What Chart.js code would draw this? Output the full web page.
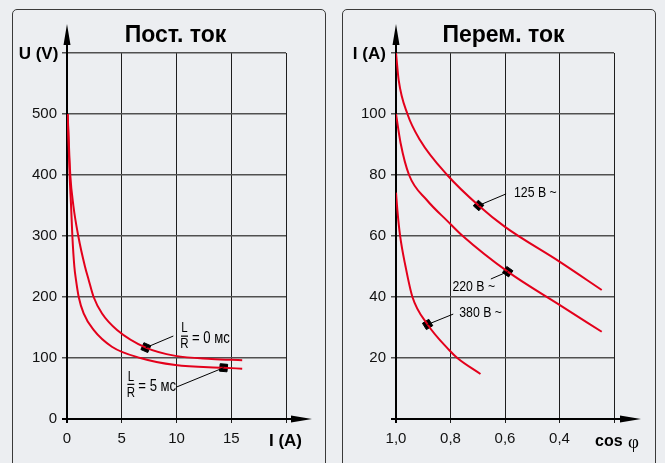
<!DOCTYPE html>
<html>
<head>
  <title>Пост. ток / Перем. ток</title>
  <script src="https://cdn.jsdelivr.net/npm/chart.js"></script>
  <style>
    body {
      margin: 0;
      width: 665px;
      height: 463px;
      overflow: hidden;
      position: relative;
      background: #eceef1;
    }
    .panel {
      position: absolute;
      top: 9px;
      height: 470px;
      border: 1px solid #3a3a3a;
      border-radius: 5px;
      box-sizing: border-box;
    }
    #p1 { left: 12px; width: 314px; }
    #p2 { left: 342px; width: 314px; }
    canvas { position: absolute; top: 0; }
    #dc { left: 0; }
    #ac { left: 333px; }
  </style>
</head>
<body>
  <div class="panel" id="p1"></div>
  <div class="panel" id="p2"></div>
  <canvas id="dc" width="333" height="463"></canvas>
  <canvas id="ac" width="332" height="463"></canvas>

  <script>
    // --- Пост. ток : U (V) over I (A)
    const dc0msI = [0.06, 0.3, 0.58, 1.03, 1.64, 1.98, 2.43, 3.2, 4.57, 7.2, 9.9, 13.2, 16];
    const dc0msU = [500, 400, 350, 300, 250, 228, 200, 173, 146, 117, 103.5, 98.5, 96.5];
    const dc5msI = [0.06, 0.24, 0.37, 0.49, 0.67, 0.82, 1.07, 1.52, 2.43, 4.1, 6.7, 9.9, 14.3, 16];
    const dc5msU = [500, 400, 350, 300, 250, 228, 200, 173, 146, 118.5, 100, 88.5, 84, 82.5];
    const dcMarkI = [7.2, 14.3];
    const dcMarkU = [117, 84];
    const dcLabelText = ['= 0 мс', '= 5 мс'];
    const dcLabelI = [10.73, 5.83];
    const dcLabelU = [136, 57];
    const dcLeaderI = [9.71, 9.95];
    const dcLeaderU = [136, 52];

    // --- Перем. ток : I (A) over cos φ
    const ac125Cos = [1.0, 0.99, 0.958, 0.912, 0.812, 0.697, 0.6, 0.4, 0.245];
    const ac125I = [120, 111, 100, 91.5, 80, 70, 63, 51.6, 42.3];
    const ac220Cos = [1.0, 0.983, 0.952, 0.887, 0.81, 0.755, 0.59, 0.4, 0.245];
    const ac220I = [100, 90.4, 80, 71.8, 64.8, 60, 48.3, 37.4, 28.6];
    const ac380Cos = [1.0, 0.995, 0.985, 0.965, 0.94, 0.884, 0.806, 0.775, 0.69];
    const ac380I = [74.2, 68.5, 60.1, 50, 40.1, 31, 22.7, 20, 14.75];
    const acMarkCos = [0.697, 0.59, 0.884];
    const acMarkI = [70, 48.3, 31];
    const acLabelText = ['125 В ~', '220 В ~', '380 В ~'];
    const acLabelCos = [0.567, 0.793, 0.768];
    const acLabelI = [74.1, 43.4, 34.9];
    const acLeaderCos = [0.596, 0.652, 0.79];
    const acLeaderI = [73.8, 45.9, 34.4];

    const RED = '#e3001b';
    const SANS = '"Liberation Sans", Arial, sans-serif';

    const pts = (xs, ys) => xs.map((x, i) => ({ x: x, y: ys[i] }));

    function curve(xs, ys) {
      return {
        data: pts(xs, ys),
        borderColor: RED,
        borderWidth: 2,
        pointRadius: 0,
        cubicInterpolationMode: 'monotone',
        fill: false
      };
    }

    function markers(xs, ys, rot) {
      return {
        data: pts(xs, ys),
        showLine: false,
        pointStyle: 'rect',
        pointRadius: 5.3,
        pointRotation: rot,
        pointBackgroundColor: '#000',
        pointBorderColor: '#000',
        pointBorderWidth: 1
      };
    }

    // condensed text (no narrow face installed, so squeeze Liberation Sans)
    function narrowText(ctx, text, x, y, size, align) {
      ctx.save();
      ctx.font = size + 'px ' + SANS;
      ctx.textAlign = align;
      ctx.textBaseline = 'middle';
      ctx.translate(x, y);
      ctx.scale(0.82, 1);
      ctx.fillText(text, 0, 0);
      ctx.restore();
    }

    function drawAxes(chart, tipX, tipY) {
      const { ctx, chartArea: a } = chart;
      ctx.save();
      ctx.strokeStyle = '#000';
      ctx.fillStyle = '#000';
      ctx.lineWidth = 2;
      ctx.beginPath();
      ctx.moveTo(a.left, a.bottom + 4);
      ctx.lineTo(a.left, tipY + 12);
      ctx.moveTo(a.left - 5, a.bottom);
      ctx.lineTo(tipX - 12, a.bottom);
      ctx.stroke();
      ctx.beginPath();
      ctx.moveTo(a.left, tipY);
      ctx.lineTo(a.left - 3.5, tipY + 21);
      ctx.lineTo(a.left + 3.5, tipY + 21);
      ctx.closePath();
      ctx.moveTo(tipX, a.bottom);
      ctx.lineTo(tipX - 21, a.bottom - 3.5);
      ctx.lineTo(tipX - 21, a.bottom + 3.5);
      ctx.closePath();
      ctx.fill();
      ctx.restore();
    }

    function leader(ctx, x1, y1, x2, y2) {
      ctx.beginPath();
      ctx.moveTo(x1, y1);
      ctx.lineTo(x2, y2);
      ctx.stroke();
    }

    function scaleOpts(min, max, step, hide, fmt, gridColor, gridWidth, tl, pad) {
      return {
        type: 'linear',
        min: min,
        max: max,
        border: { display: false },
        grid: { color: gridColor, lineWidth: gridWidth, tickLength: tl, drawTicks: true },
        ticks: {
          stepSize: step,
          padding: pad,
          color: '#111',
          font: { family: SANS, size: 15 },
          callback: v => hide(v) ? '' : fmt(v)
        }
      };
    }

    // left chart
    const dcX = scaleOpts(0, 20, 5, v => v > 17, v => String(v), '#1e1e1e', 1, 4, 7);
    dcX.afterFit = s => { s.height = 44; };
    const dcY = scaleOpts(0, 600, 100, v => v > 550, v => String(v), '#505050', 1.5, 5, 5);
    dcY.afterFit = s => { s.width = 67; };

    new Chart(document.getElementById('dc'), {
      type: 'line',
      data: {
        datasets: [
          curve(dc0msI, dc0msU),
          curve(dc5msI, dc5msU),
          markers(dcMarkI, dcMarkU, [24, 5])
        ]
      },
      options: {
        responsive: false,
        animation: false,
        events: [],
        devicePixelRatio: 1,
        layout: { padding: { top: 53, right: 47, left: 0, bottom: 0 } },
        scales: { x: dcX, y: dcY },
        plugins: { legend: { display: false }, tooltip: { enabled: false } }
      },
      plugins: [{
        id: 'dcDeco',
        beforeDatasetsDraw(chart) {
          drawAxes(chart, 312, 24);
        },
        afterDatasetsDraw(chart) {
          const { ctx, scales: { x, y } } = chart;
          ctx.save();
          ctx.fillStyle = '#000';
          ctx.strokeStyle = '#000';
          ctx.lineWidth = 1;
          dcLabelText.forEach((t, i) => {
            leader(ctx, x.getPixelForValue(dcMarkI[i]), y.getPixelForValue(dcMarkU[i]),
              x.getPixelForValue(dcLeaderI[i]), y.getPixelForValue(dcLeaderU[i]));
            const cx = x.getPixelForValue(dcLabelI[i]);
            const cy = y.getPixelForValue(dcLabelU[i]);
            narrowText(ctx, 'L', cx, cy - 7.5, 14, 'center');
            narrowText(ctx, 'R', cx, cy + 8.5, 14, 'center');
            ctx.fillRect(cx - 3.5, cy - 0.5, 7, 1.2);
            narrowText(ctx, t, cx + 7.5, cy + 2.5, 16, 'left');
          });
          ctx.font = 'bold 23px ' + SANS;
          ctx.textAlign = 'center';
          ctx.textBaseline = 'middle';
          ctx.fillText('Пост. ток', 175.5, 36);
          ctx.font = 'bold 17px ' + SANS;
          ctx.fillText('U (V)', 38.5, 54);
          ctx.fillText('I (A)', 285.5, 441);
          ctx.restore();
        }
      }]
    });

    // right chart
    const acX = scaleOpts(0.2, 1.0, 0.2, v => v < 0.3, v => v.toFixed(1).replace('.', ','), '#1e1e1e', 1, 4, 7);
    acX.reverse = true;
    acX.afterFit = s => { s.height = 44; };
    const acY = scaleOpts(0, 120, 20, v => v < 10 || v > 110, v => String(v), '#505050', 1.5, 5, 5);
    acY.afterFit = s => { s.width = 63; };

    new Chart(document.getElementById('ac'), {
      type: 'line',
      data: {
        datasets: [
          curve(ac125Cos, ac125I),
          curve(ac220Cos, ac220I),
          curve(ac380Cos, ac380I),
          markers(acMarkCos, acMarkI, [42, 35, 58])
        ]
      },
      options: {
        responsive: false,
        animation: false,
        events: [],
        devicePixelRatio: 1,
        layout: { padding: { top: 53, right: 51, left: 0, bottom: 0 } },
        scales: { x: acX, y: acY },
        plugins: { legend: { display: false }, tooltip: { enabled: false } }
      },
      plugins: [{
        id: 'acDeco',
        beforeDatasetsDraw(chart) {
          drawAxes(chart, 308, 24);
        },
        afterDatasetsDraw(chart) {
          const { ctx, scales: { x, y } } = chart;
          ctx.save();
          ctx.fillStyle = '#000';
          ctx.strokeStyle = '#000';
          ctx.lineWidth = 1;
          acLabelText.forEach((t, i) => {
            leader(ctx, x.getPixelForValue(acMarkCos[i]), y.getPixelForValue(acMarkI[i]),
              x.getPixelForValue(acLeaderCos[i]), y.getPixelForValue(acLeaderI[i]));
            narrowText(ctx, t, x.getPixelForValue(acLabelCos[i]), y.getPixelForValue(acLabelI[i]), 15, 'left');
          });
          ctx.font = 'bold 23px ' + SANS;
          ctx.textAlign = 'center';
          ctx.textBaseline = 'middle';
          ctx.fillText('Перем. ток', 170.5, 36);
          ctx.font = 'bold 17px ' + SANS;
          ctx.fillText('I (A)', 36.3, 54);
          ctx.textAlign = 'left';
          ctx.font = 'bold 16px ' + SANS;
          ctx.fillText('cos', 262, 442);
          ctx.font = '19px "Liberation Serif", serif';
          ctx.fillText('φ', 295, 443);
          ctx.restore();
        }
      }]
    });
  </script>
</body>
</html>
